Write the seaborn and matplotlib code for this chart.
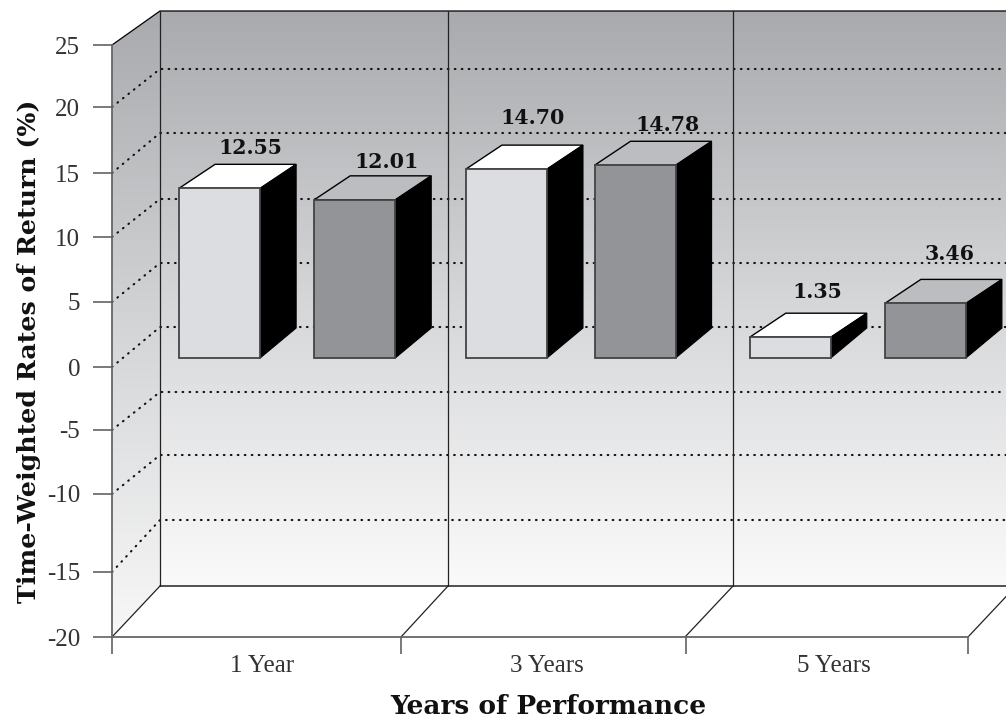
import numpy as np
import pandas as pd
import matplotlib
matplotlib.use("Agg")
import matplotlib.pyplot as plt
import seaborn as sns
from matplotlib.colors import LinearSegmentedColormap
from matplotlib.patches import Polygon
from matplotlib.transforms import Affine2D, IdentityTransform

# DATA.

periods = ["1 Year", "3 Years", "5 Years"]
series_a_labels = [12.55, 14.70, 1.35]
series_b_labels = [12.01, 14.78, 3.46]
series_a_drawn = [13.1, 14.6, 1.6]   # bar heights as they sit against the axis
series_b_drawn = [12.2, 14.9, 4.2]
y_ticks = [-20, -15, -10, -5, 0, 5, 10, 15, 20, 25]

# The printed axis is not evenly spaced, so the scale goes through these pixel rows.
front_rows = [637, 572, 494, 430, 367, 302, 237, 173, 107, 45]
wall_rows = [586, 520, 455, 392, 327, 263, 199, 133, 69, 11]

W, H = 1006, 719
SERIF = ["Liberation Serif", "DejaVu Serif"]
BOLD_SERIF = ["DejaVu Serif"]

sns.set_theme(style="white")
plt.rcParams["font.family"] = SERIF


def to_rows(v):
    return np.interp(v, y_ticks, -np.array(front_rows, dtype=float))


def from_rows(r):
    return np.interp(r, -np.array(front_rows, dtype=float), y_ticks)


fig = plt.figure(figsize=(W / 100, H / 100), dpi=100, facecolor="white")

# BACKGROUND (walls and floor, in pixel coordinates).

bg = fig.add_axes([0, 0, 1, 1], zorder=0)
bg.set_xlim(0, W)
bg.set_ylim(H, 0)
bg.axis("off")

wall_cmap = LinearSegmentedColormap.from_list("wall", ["#a9aaad", "#d5d6d8", "#fafafa"])
gradient = np.linspace(0, 1, 256).reshape(-1, 1)

back = bg.imshow(gradient, cmap=wall_cmap, extent=(160, W + 5, 586, 11), aspect="auto", zorder=1)
side = bg.imshow(gradient, cmap=wall_cmap, extent=(112, 160, 660, 11), aspect="auto", zorder=1)
side.set_clip_path(Polygon([(112, 45), (160, 11), (160, 586), (112, 637)], transform=bg.transData))
bg.set_xlim(0, W)
bg.set_ylim(H, 0)

for front, wall in zip(front_rows[1:-1], wall_rows[1:-1]):
    bg.plot([112, 160, W], [front, wall, wall], color="#111111", lw=1.5,
            ls=(0, (0.35, 3.0)), dash_capstyle="round", zorder=2)

bg.plot([112, 160, W], [45, 11, 11], color="black", lw=0.9, zorder=3)
bg.plot([160, W], [586, 586], color="#222222", lw=1.1, zorder=3)
for x_front, x_back in zip([112, 401, 685, 968], [160, 448, 733, 1016]):
    bg.plot([x_back, x_back], [11, 586], color="#222222", lw=0.9, zorder=3)
    bg.plot([x_front, x_back], [637, 586], color="#222222", lw=0.9, zorder=3)

# BARS.

df = pd.DataFrame({
    "period": periods * 2,
    "series": ["a"] * 3 + ["b"] * 3,
    "drawn": series_a_drawn + series_b_drawn,
})

ax = fig.add_axes([112 / W, 1 - 637 / H, 856 / W, 592 / H], zorder=1)
ax.patch.set_alpha(0)

sns.barplot(data=df, x="period", y="drawn", hue="series", order=periods, legend=False,
            palette={"a": "#dcdde0", "b": "#939497"}, width=0.947, gap=0.4,
            edgecolor="#444444", linewidth=1.3, saturation=1, ax=ax, zorder=5)

ax.set_yscale("function", functions=(to_rows, from_rows))
ax.set_xlim(-0.5, 2.5)
ax.set_ylim(-20, 25)

# Extruding every bar: a shift to its floor position, then top and side faces.

shift = (32.5, 9)
depth_x, depth_top, depth_base = 36, 24, 30
top_colors = {"a": "white", "b": "#bcbdc0"}
bars = ax.patches
bar_labels = series_a_labels + series_b_labels
bar_series = ["a"] * 3 + ["b"] * 3
bar_nudge = [0, 1.5, 0, 0, -5, 0]
label_x = [31, 26, 27, 32, 33, 24]
label_lift = [16, 27, 21, 14, 16, 25]

ax.figure.canvas.draw()
for bar, value, kind, nudge, lx, lift in zip(bars, bar_labels, bar_series, bar_nudge, label_x, label_lift):
    x0, x1 = bar.get_x(), bar.get_x() + bar.get_width()
    px0, py_top = ax.transData.transform((x0, bar.get_height()))
    px1, py_base = ax.transData.transform((x1, 0))
    px0, px1 = px0 + shift[0] + nudge, px1 + shift[0] + nudge
    py_top, py_base = py_top + shift[1], py_base + shift[1]

    bar.set_transform(ax.transData + Affine2D().translate(shift[0] + nudge, shift[1]))
    bar.set_clip_on(False)

    top_face = [(px0, py_top), (px0 + depth_x, py_top + depth_top),
                (px1 + depth_x, py_top + depth_top), (px1, py_top)]
    side_face = [(px1, py_top), (px1 + depth_x, py_top + depth_top),
                 (px1 + depth_x, py_base + depth_base), (px1, py_base)]
    ax.add_patch(Polygon(top_face, facecolor=top_colors[kind], edgecolor="black", lw=1,
                         transform=IdentityTransform(), clip_on=False, zorder=4))
    ax.add_patch(Polygon(side_face, facecolor="black", edgecolor="black", lw=0.8,
                         transform=IdentityTransform(), clip_on=False, zorder=4))

    ax.text((px0 + px1) / 2 + lx, py_top + depth_top + lift, f"{value:.2f}",
            transform=IdentityTransform(), ha="center", va="center", family=BOLD_SERIF,
            fontsize=14.8, fontweight="bold", color="#111111", zorder=6)

# AXES.

sns.despine(ax=ax)
for name in ["left", "bottom"]:
    ax.spines[name].set_color("#666666")
    ax.spines[name].set_linewidth(1.3)

ax.set_yticks(y_ticks)
ax.set_yticklabels([str(t) for t in y_ticks], fontsize=18, color="#333333")
ax.yaxis.set_minor_locator(plt.NullLocator())
ax.tick_params(axis="y", length=14, width=1.1, color="#555555", pad=9, left=True)

ax.set_xticks([-0.5, 0.513, 1.51, 2.5])
ax.set_xticklabels([])
ax.set_xticks([0.025, 1.025, 2.03], labels=periods, minor=True)
ax.tick_params(axis="x", which="major", length=12, width=1.1, color="#555555", bottom=True)
ax.tick_params(axis="x", which="minor", length=0, pad=13, labelsize=18, labelcolor="#333333")

ax.set_xlabel("Years of Performance", fontsize=19, fontweight="bold", color="#111111", family=BOLD_SERIF)
ax.xaxis.set_label_coords((548 - 112) / 856, -(706 - 637) / 592, transform=ax.transAxes)
ax.xaxis.label.set_va("center")
ax.set_ylabel("Time-Weighted Rates of Return (%)", fontsize=18.2, fontweight="bold", color="#111111", family=BOLD_SERIF)
ax.yaxis.set_label_coords((29 - 112) / 856, (637 - 351) / 592, transform=ax.transAxes)
ax.yaxis.label.set_va("center")

fig.savefig("out.png", dpi=100)
